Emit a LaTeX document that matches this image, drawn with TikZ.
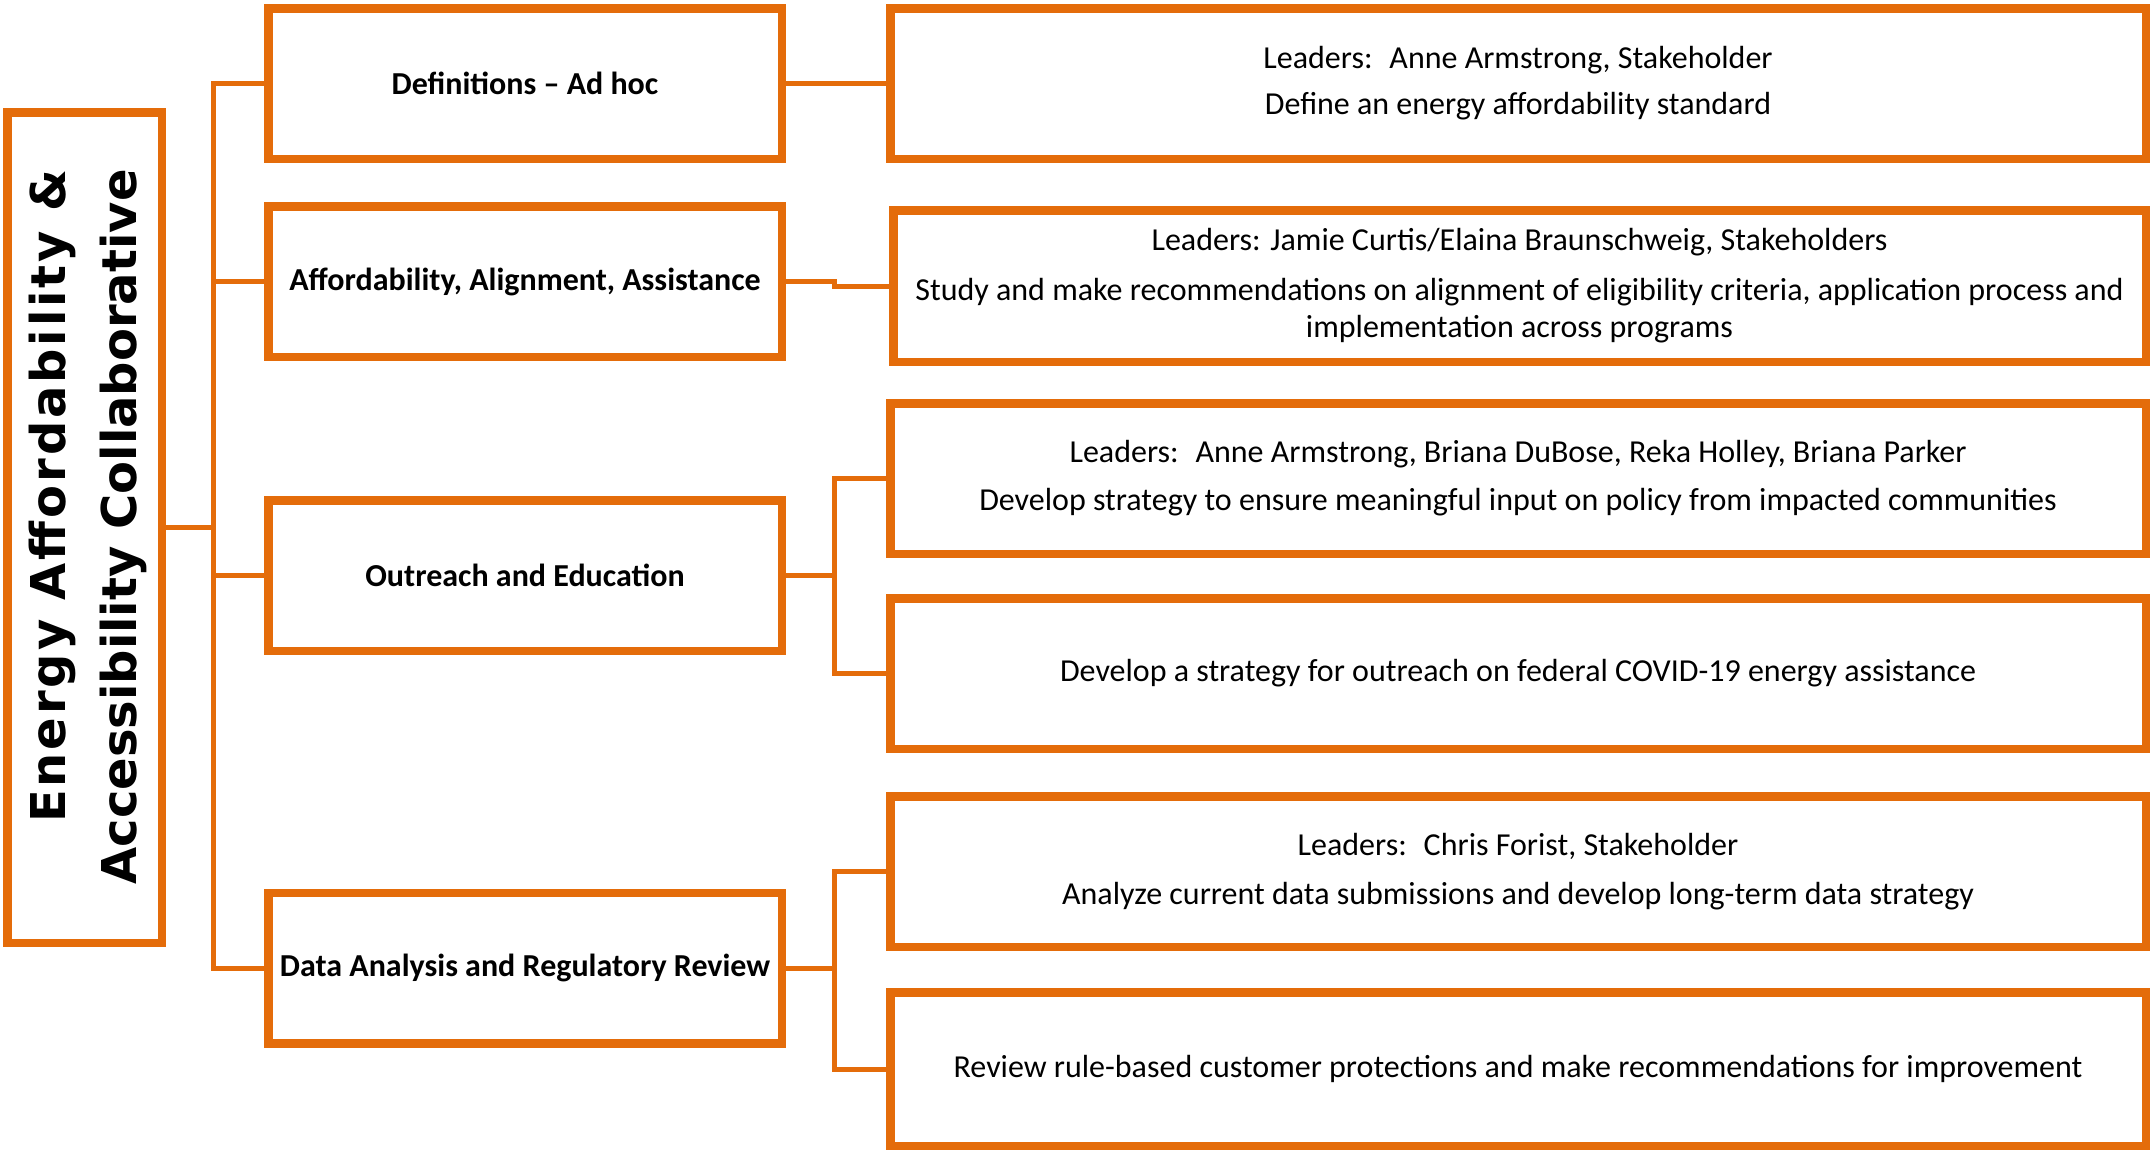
\documentclass[tikz,border=0pt]{standalone}
\usepackage{fontspec}
\setmainfont{Carlito}
\newfontfamily\titlefont{DejaVu Sans}
\usetikzlibrary{shadows}
\definecolor{org}{HTML}{E46C0A}
\tikzset{
  box/.style={draw=org, line width=8.5pt, fill=white, inner sep=0pt, align=center,
    drop shadow={shadow xshift=2pt, shadow yshift=-4pt, fill=black, opacity=0.15}},
  conn/.style={draw=org, line width=5pt},
  lone/.style={box, minimum width=513.5pt, minimum height=150.5pt, font=\fontsize{32}{38}\selectfont\bfseries},
  ltwo/.style={box, minimum width=1255.5pt, minimum height=150.5pt, font=\fontsize{32}{37}\selectfont},
}
\begin{document}
\begin{tikzpicture}[x=1pt,y=-1pt]
\useasboundingbox (0,0) rectangle (2151,1152);
% main
\node[box, minimum width=154.5pt, minimum height=830.5pt] (main) at (84.5,527.5) {};
\node[rotate=90, align=right, font=\titlefont\bfseries\fontsize{48}{71}\selectfont] (title) at (88,527) {{\addfontfeature{LetterSpace=6}Energy Affordability \&}\\Accessibility Collaborative};
% level 1
\node[lone] (l1def) at (525,83.5) {Definitions -- Ad hoc};
\node[lone] (l1aff) at (525,281.5) {Affordability, Alignment, Assistance};
\node[lone] (l1out) at (525,575.5) {Outreach and Education};
\node[lone] (l1data) at (525,968) {Data Analysis and Regulatory Review};
% level 2
\node[ltwo] (l2def) at (1518,83.5) {Leaders:~ Anne Armstrong, Stakeholder\\[9pt]Define an energy affordability standard};
\node[ltwo, minimum width=1252.5pt, minimum height=151.5pt] (l2aff) at (1519.5,286) {Leaders: Jamie Curtis/Elaina Braunschweig, Stakeholders\\[13pt]Study and make recommendations on alignment of eligibility criteria, application process and\\implementation across programs};
\node[ltwo] (l2out1) at (1518,478.5) {Leaders:~ Anne Armstrong, Briana DuBose, Reka Holley, Briana Parker\\[11pt]Develop strategy to ensure meaningful input on policy from impacted communities};
\node[ltwo] (l2out2) at (1518,673.5) {Develop a strategy for outreach on federal COVID-19 energy assistance};
\node[ltwo] (l2data1) at (1518,871.5) {Leaders:~ Chris Forist, Stakeholder\\[12pt]Analyze current data submissions and develop long-term data strategy};
\node[ltwo, minimum height=153.5pt] (l2data2) at (1518,1069) {Review rule-based customer protections and make recommendations for improvement};
% connector points
\coordinate (tk) at (213,527.5);
\coordinate (bx) at (834,0);
\coordinate (ob) at (834,575.5);
\coordinate (db) at (834,968);
% connectors
\draw[conn] (main.east) -- (tk);
\draw[conn] (l1def.west) -| (tk);
\draw[conn] (l1aff.west) -| (tk);
\draw[conn] (l1out.west) -| (tk);
\draw[conn] (l1data.west) -| (tk);
\draw[conn] (l1def.east) -- (l2def.west);
\draw[conn] (l1aff.east) -- (l1aff.east -| bx) |- (l2aff.west);
\draw[conn] (l1out.east) -- (ob);
\draw[conn] (ob) |- (l2out1.west);
\draw[conn] (ob) |- (l2out2.west);
\draw[conn] (l1data.east) -- (db);
\draw[conn] (db) |- (l2data1.west);
\draw[conn] (db) |- (l2data2.west);
\end{tikzpicture}
\end{document}
